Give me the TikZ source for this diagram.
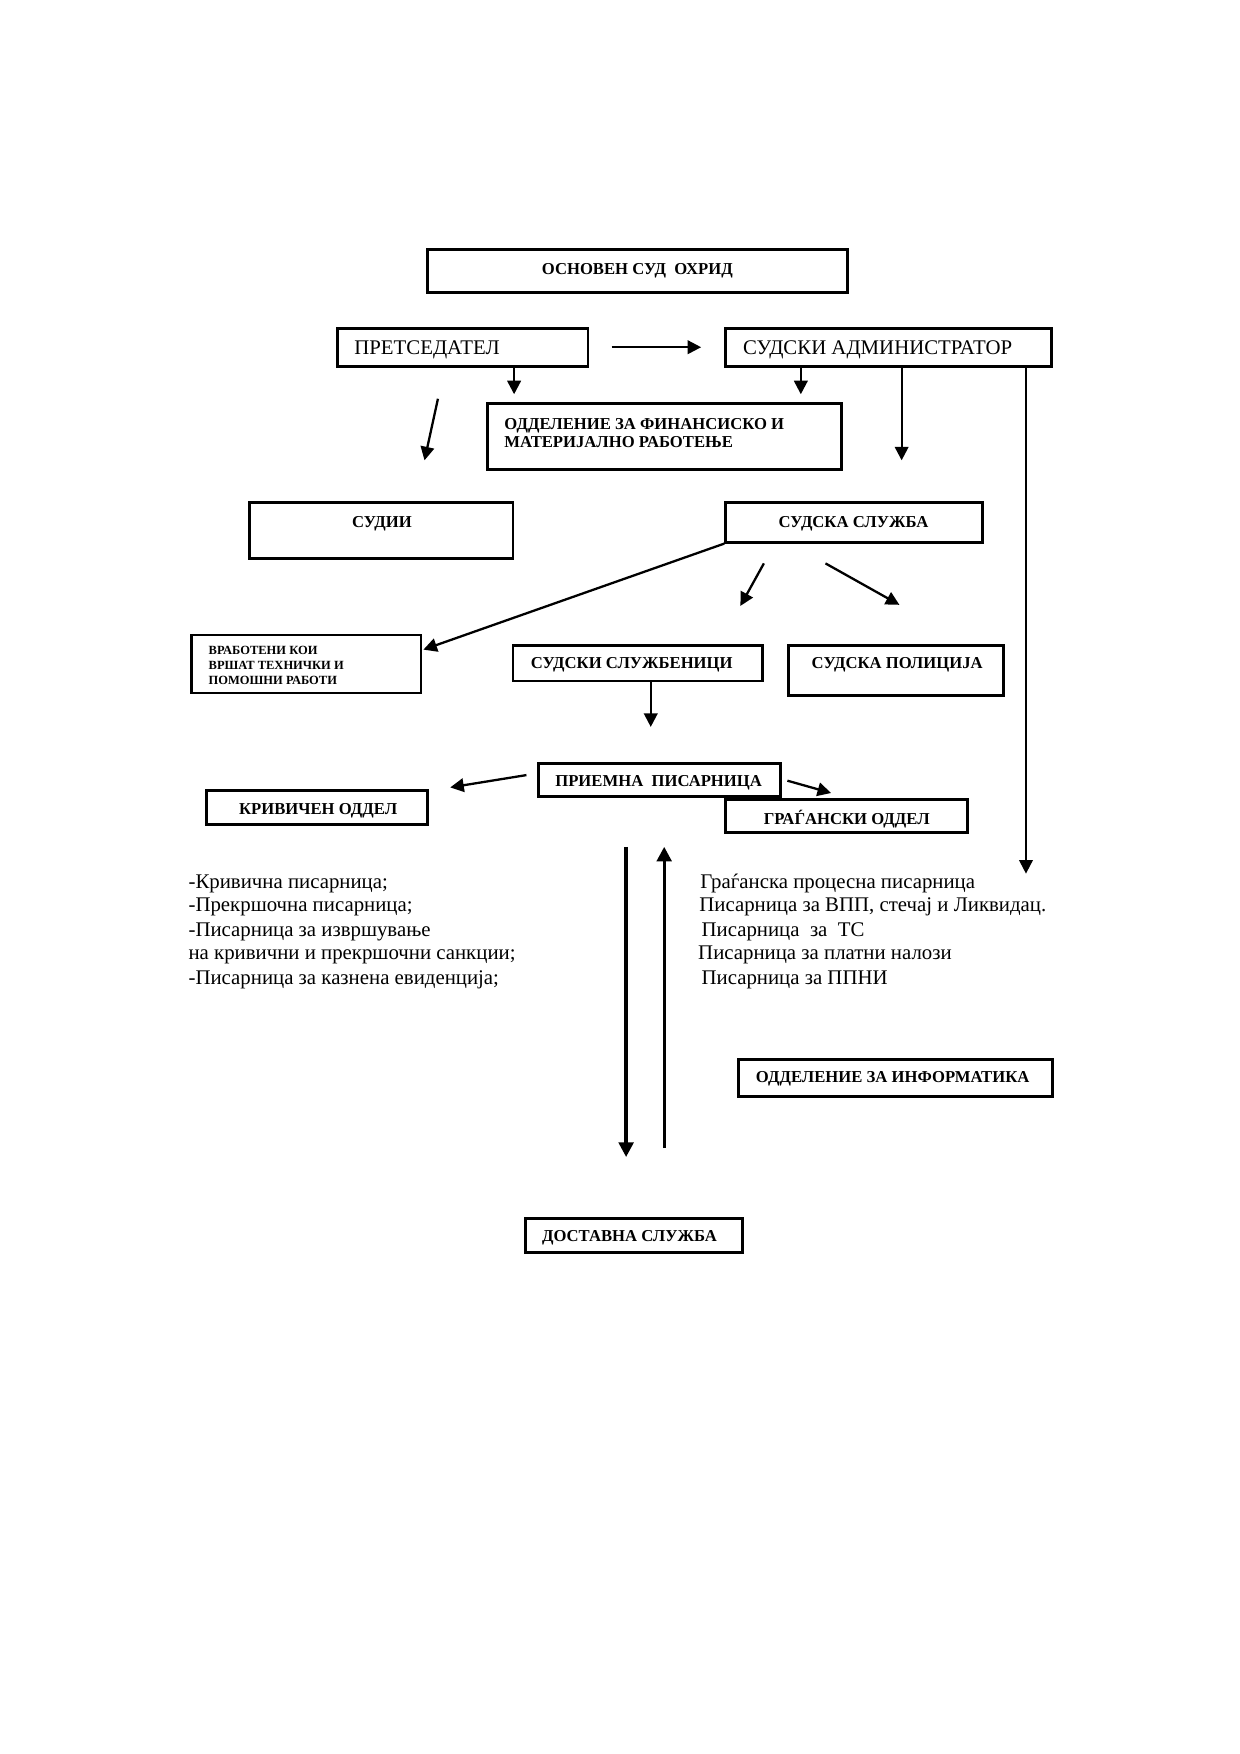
\documentclass[tikz,border=0pt]{standalone}
\usepackage{fontspec}
\setmainfont{Liberation Serif}
\usetikzlibrary{arrows.meta,fit,calc}
\begin{document}
\begin{tikzpicture}[x=0.5378pt,y=-0.5378pt,
 box/.style={draw, line width=1.4pt, inner sep=0pt},
 bt/.style={font=\fontsize{8}{9}\selectfont\bfseries, inner sep=0pt},
 rt/.style={font=\fontsize{10}{11}\selectfont, inner sep=0pt, anchor=west},
 lt/.style={font=\fontsize{10}{11.6}\selectfont, inner sep=0pt, anchor=base west},
 arr/.style={line width=1.1pt, -{Triangle[length=6.5pt,width=6.5pt]}},
 thickarr/.style={line width=1.6pt, -{Triangle[length=7pt,width=7pt]}},
]
\useasboundingbox (0,0) rectangle (1107,1566);
% boxes
\node[box, fit={(382,223) (757,261)}] (osn) {};
\node[box, fit={(301,293) (525,327)}] (pres) {};
\node[box, fit={(648,293) (939,327)}] (adm) {};
\node[box, fit={(435,360) (751,419)}] (fin) {};
\node[box, fit={(223,449) (458,499)}] (sud) {};
\node[box, fit={(648,449) (877,484)}] (sl) {};
\node[box, line width=1.1pt, fit={(171,567) (376,619)}] (vrab) {};
\node[box, fit={(458,576) (681,608)}] (sluz) {};
\node[box, fit={(704,576) (896,621)}] (pol) {};
\node[box, fit={(481,682) (697,711)}] (prie) {};
\node[box, fit={(184,706) (382,736)}] (kriv) {};
\node[box, fit={(648,714) (864,743)}] (grag) {};
\node[box, fit={(659,946) (940,979)}] (inf) {};
\node[box, fit={(469,1088) (663,1118)}] (dost) {};
% box texts
\node[bt] (osnT) at (569,241.5) {ОСНОВЕН СУД\ \ ОХРИД};
\node[rt] (presT) at (316,312.5) {ПРЕТСЕДАТЕЛ};
\node[rt] (admT) at (663,312.5) {СУДСКИ АДМИНИСТРАТОР};
\node[bt, anchor=north west, align=left, font=\fontsize{8}{8.6}\selectfont\bfseries] (finT) at (450,373.5) {ОДДЕЛЕНИЕ ЗА ФИНАНСИСКО И\\МАТЕРИЈАЛНО РАБОТЕЊЕ};
\node[bt] (sudT) at (341,467.5) {СУДИИ};
\node[bt] (slT) at (762,467.5) {СУДСКА СЛУЖБА};
\node[bt, anchor=north west, align=left, font=\fontsize{6}{7}\selectfont\bfseries] (vrabT) at (186,577) {ВРАБОТЕНИ КОИ\\ВРШАТ ТЕХНИЧКИ И\\ПОМОШНИ РАБОТИ};
\node[bt] (sluzT) at (564,593.5) {СУДСКИ СЛУЖБЕНИЦИ};
\node[bt] (polT) at (801,593.5) {СУДСКА ПОЛИЦИЈА};
\node[bt] (prieT) at (588,698.5) {ПРИЕМНА\ \ ПИСАРНИЦА};
\node[bt] (krivT) at (284,723.5) {КРИВИЧЕН ОДДЕЛ};
\node[bt] (gragT) at (756,731.5) {ГРАЃАНСКИ ОДДЕЛ};
\node[bt] (infT) at (797,963.5) {ОДДЕЛЕНИЕ ЗА ИНФОРМАТИКА};
\node[bt] (dostT) at (562,1105.5) {ДОСТАВНА СЛУЖБА};
% lists
\node[lt] (l1) at (168,793) {-Кривична писарница;};
\node[lt] (l2) at (168,814) {-Прекршочна писарница;};
\node[lt] (l3) at (168,836) {-Писарница за извршување};
\node[lt] (l4) at (168,857) {на кривични и прекршочни санкции;};
\node[lt] (l5) at (168,879) {-Писарница за казнена евиденција;};
\node[lt] (r1) at (625,793) {Граѓанска процесна писарница};
\node[lt] (r2) at (624,814) {Писарница за ВПП, стечај и Ликвидац.};
\node[lt] (r3) at (626,836) {Писарница\ \ за\ \ ТС};
\node[lt] (r4) at (623,857) {Писарница за платни налози};
\node[lt] (r5) at (626,879) {Писарница за ППНИ};
% coordinates
\coordinate (a1) at (546,310); \coordinate (a2) at (626,310);
\coordinate (b) at (459,352);
\coordinate (c) at (715,352);
\coordinate (d1) at (391,356); \coordinate (d2) at (379,411);
\coordinate (e) at (805,411);
\coordinate (f) at (916,780);
\coordinate (g) at (378,580);
\coordinate (h1) at (682,503); \coordinate (h2) at (661,541);
\coordinate (i1) at (737,503); \coordinate (i2) at (803,540);
\coordinate (j) at (581,649);
\coordinate (k1) at (470,692); \coordinate (k2) at (402,703);
\coordinate (l1c) at (703,697); \coordinate (l2c) at (742,708);
\coordinate (m1) at (559,756); \coordinate (m2) at (559,1033);
\coordinate (n1) at (593,1025); \coordinate (n2) at (593,756);
% arrows
\draw[arr] (a1) -- (a2);
\draw[arr] (pres.south -| b) -- (b);
\draw[arr] (adm.south -| c) -- (c);
\draw[arr] (d1) -- (d2);
\draw[arr] (adm.south -| e) -- (e);
\draw[arr, line width=0.9pt] (adm.south -| f) -- (f);
\draw[arr] (sl.south west) -- (g);
\draw[arr] (h1) -- (h2);
\draw[arr] (i1) -- (i2);
\draw[arr] (sluz.south -| j) -- (j);
\draw[arr] (k1) -- (k2);
\draw[arr] (l1c) -- (l2c);
\draw[thickarr] (m1) -- (m2);
\draw[thickarr] (n1) -- (n2);
\end{tikzpicture}
\end{document}
